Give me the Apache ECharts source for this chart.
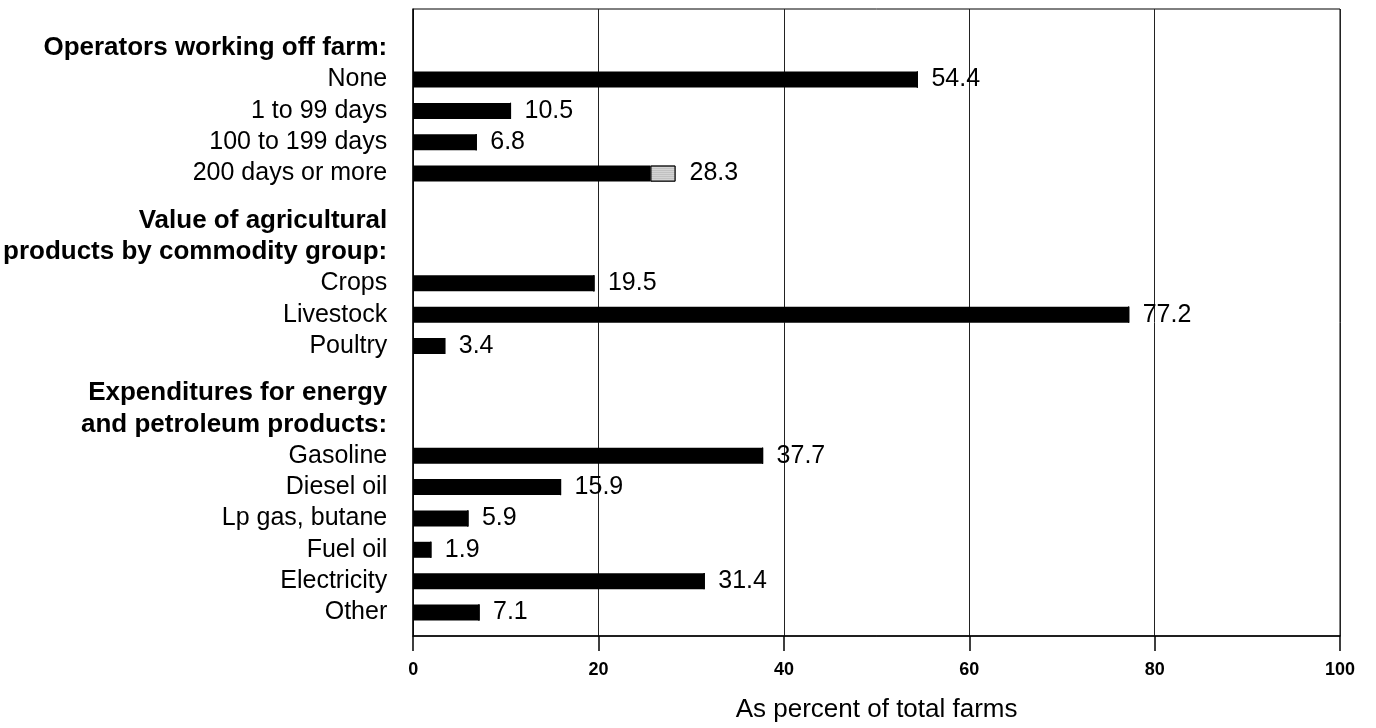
<!DOCTYPE html>
<html>
<head>
<meta charset="utf-8">
<script src="https://cdn.jsdelivr.net/npm/echarts@6/dist/echarts.min.js"></script>
<style>
html,body{margin:0;padding:0;background:#fff;}
#chart{width:1376px;height:728px;}
</style>
</head>
<body>
<div id="chart"></div>
<script>
// ---- data ----
const groupTitles = [
  ['Operators working off farm:'],
  ['Value of agricultural', 'products by commodity group:'],
  ['Expenditures for energy', 'and petroleum products:']
];
const groupItems = [
  ['None', '1 to 99 days', '100 to 199 days', '200 days or more'],
  ['Crops', 'Livestock', 'Poultry'],
  ['Gasoline', 'Diesel oil', 'Lp gas, butane', 'Fuel oil', 'Electricity', 'Other']
];
const groupValues = [
  [54.4, 10.5, 6.8, 28.3],
  [19.5, 77.2, 3.4],
  [37.7, 15.9, 5.9, 1.9, 31.4, 7.1]
];
// stippled tail of a bar (part of the total shown in its label)
const groupStippled = [
  [0, 0, 0, 2.7],
  [0, 0, 0],
  [0, 0, 0, 0, 0, 0]
];
const xTicks = [0, 20, 40, 60, 80, 100];
const axisTitle = 'As percent of total farms';

// ---- build half-row slot table ----
const FONT = '"Liberation Sans", Arial, Helvetica, sans-serif';
const slots = [];      // category keys
const solid = [];      // black part
const tail = [];       // stippled part
const totals = [];
let blankId = 0;
function blank() { slots.push('_' + (blankId++)); solid.push('-'); tail.push('-'); totals.push(null); }
blank(); blank();
groupTitles.forEach((titles, g) => {
  if (g > 0) blank();
  titles.forEach(t => { slots.push('#' + t); solid.push('-'); tail.push('-'); totals.push(null); blank(); });
  groupItems[g].forEach((name, i) => {
    const v = groupValues[g][i], s = groupStippled[g][i];
    slots.push(name);
    totals.push(v);
    solid.push({ value: +(v - s).toFixed(2), label: { show: s === 0 } });
    tail.push({ value: s, label: { show: s > 0 } });
    blank();
  });
});

const labelFmt = p => totals[p.dataIndex] == null ? '' : totals[p.dataIndex].toFixed(1);
const barLabel = {
  position: 'right', distance: 14, color: '#000',
  fontFamily: FONT, fontSize: 25, formatter: labelFmt
};

const chart = echarts.init(document.getElementById('chart'), null, { renderer: 'canvas' });
chart.setOption({
  animation: false,
  backgroundColor: '#fff',
  grid: { left: 413, right: 36, top: 9, bottom: 91, show: true, borderColor: '#000', borderWidth: 1 },
  xAxis: {
    type: 'value', min: xTicks[0], max: xTicks[xTicks.length - 1], interval: xTicks[1] - xTicks[0],
    axisLine: { show: true, lineStyle: { color: '#000', width: 1.5 } },
    axisTick: { show: true, length: 15, lineStyle: { color: '#000', width: 1.5 } },
    splitLine: { show: true, lineStyle: { color: '#222', width: 1 } },
    axisLabel: { color: '#000', fontFamily: FONT, fontSize: 18, fontWeight: 'bold', margin: 25 },
    name: axisTitle, nameLocation: 'middle', nameGap: 61,
    nameTextStyle: { color: '#000', fontFamily: FONT, fontSize: 26 }
  },
  yAxis: {
    type: 'category', inverse: true, data: slots,
    axisLine: { show: true, lineStyle: { color: '#000', width: 1.5 } },
    axisTick: { show: false },
    splitLine: { show: false },
    axisLabel: {
      interval: 0, margin: 26, color: '#000', fontFamily: FONT, fontSize: 25,
      formatter: v => v[0] === '_' ? '' : (v[0] === '#' ? '{h|' + v.slice(1) + '}' : v),
      rich: { h: { fontWeight: 'bold', fontFamily: FONT, fontSize: 26, color: '#000' } }
    }
  },
  series: [
    {
      type: 'bar', stack: 'a', data: solid, barWidth: 16,
      itemStyle: { color: '#000' },
      label: barLabel
    },
    {
      type: 'bar', stack: 'a', data: tail, barWidth: 16,
      itemStyle: { color: '#d4d4d4', borderColor: '#000', borderWidth: 0.8,
        decal: { symbol: 'rect', symbolSize: 0.5, dashArrayX: [2, 0], dashArrayY: [1, 1], color: 'rgba(0,0,0,0.35)' } },
      label: barLabel
    }
  ]
});
</script>
</body>
</html>
